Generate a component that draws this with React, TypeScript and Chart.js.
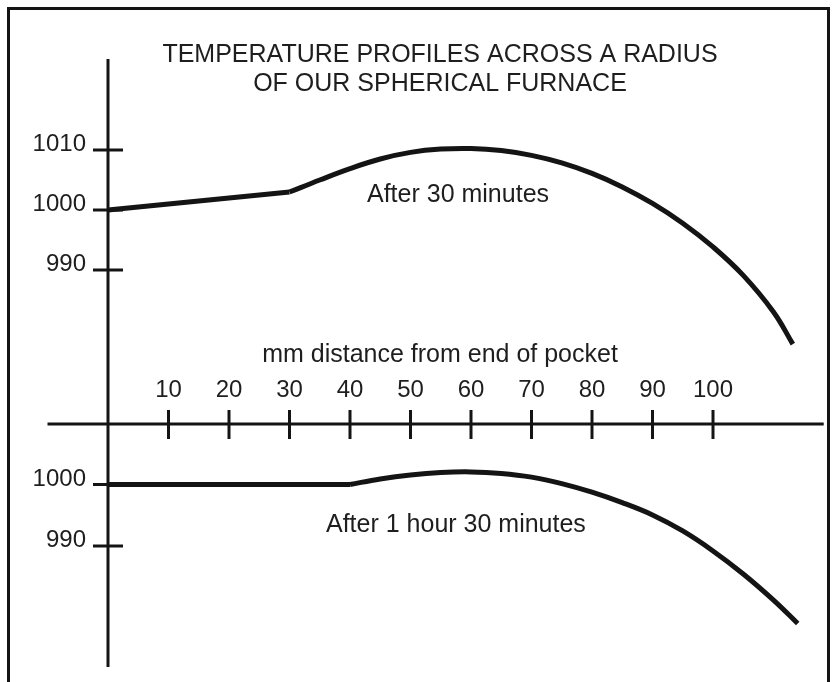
import React, { useEffect, useRef } from "react";
import { Chart, registerables } from "chart.js";

Chart.register(...registerables);

// ---- text ----
const titleLines = ["TEMPERATURE PROFILES ACROSS A RADIUS", "OF OUR SPHERICAL FURNACE"];
const xAxisTitle = "mm distance from end of pocket";
const upperLabel = "After 30 minutes";
const lowerLabel = "After 1 hour 30 minutes";

// ---- ticks ----
const xTicks = [10, 20, 30, 40, 50, 60, 70, 80, 90, 100];
const upperTicks = [1010, 1000, 990];
const lowerTicks = [1000, 990];

// ---- data: after 30 minutes ----
const upperX = [0, 30, 35, 40, 45, 50, 55, 60, 65, 70, 75, 80, 85, 90, 95, 100, 105, 110, 113.2];
const upperT = [1000, 1003.0, 1005.0, 1006.9, 1008.5, 1009.6, 1010.15, 1010.25, 1009.9, 1009.1, 1007.85, 1006.1, 1003.85, 1001.1, 997.8, 993.85, 989.1, 983.0, 977.65];
const upperKink = 30;

// ---- data: after 1 hour 30 minutes ----
const lowerX = [0, 40, 45, 50, 55, 60, 65, 70, 75, 80, 85, 90, 95, 100, 105, 110, 114];
const lowerT = [1000, 1000, 1000.9, 1001.55, 1001.95, 1002.05, 1001.8, 1001.2, 1000.15, 998.75, 997.05, 995.05, 992.45, 989.2, 985.45, 981.2, 977.4];
const lowerKink = 40;

const FONT = "'Liberation Sans', Arial, Helvetica, sans-serif";
const INK = "#141414";
const TEXT = "#1e1e1e";

function pts(xs: number[], ys: number[], from: number, to: number) {
  const out: { x: number; y: number }[] = [];
  xs.forEach((x, i) => {
    if (x >= from && x <= to) out.push({ x, y: ys[i] });
  });
  return out;
}

const lineStyle = {
  borderColor: INK,
  borderWidth: 5,
  pointRadius: 0,
  borderCapStyle: "butt" as const,
  borderJoinStyle: "round" as const,
  fill: false,
  clip: false as any,
};

const drawPlugin = {
  id: "furnaceAxes",
  afterDatasetsDraw(chart: any) {
    const ctx: CanvasRenderingContext2D = chart.ctx;
    const x = chart.scales.x;
    const yU = chart.scales.yU;
    const yL = chart.scales.yL;
    ctx.save();

    // frame
    ctx.strokeStyle = INK;
    ctx.lineWidth = 3;
    ctx.beginPath();
    ctx.moveTo(8.5, 690);
    ctx.lineTo(8.5, 8.5);
    ctx.lineTo(828.5, 8.5);
    ctx.lineTo(828.5, 690);
    ctx.stroke();

    const x0 = x.getPixelForValue(0);
    const axisY = 424;

    // vertical axis
    ctx.lineWidth = 3;
    ctx.beginPath();
    ctx.moveTo(x0, 59);
    ctx.lineTo(x0, 667);
    ctx.stroke();

    // horizontal axis
    ctx.beginPath();
    ctx.moveTo(x.getPixelForValue(-10), axisY);
    ctx.lineTo(x.getPixelForValue(118.3), axisY);
    ctx.stroke();

    // x ticks
    ctx.font = `24px ${FONT}`;
    ctx.fillStyle = TEXT;
    ctx.textAlign = "center";
    ctx.textBaseline = "alphabetic";
    xTicks.forEach((v) => {
      const px = x.getPixelForValue(v);
      ctx.beginPath();
      ctx.moveTo(px, axisY - 14);
      ctx.lineTo(px, axisY + 15);
      ctx.stroke();
      ctx.fillText(String(v), px, 397);
    });

    // y ticks
    const yTick = (scale: any, v: number) => {
      const py = scale.getPixelForValue(v);
      ctx.beginPath();
      ctx.moveTo(x0 - 15, py);
      ctx.lineTo(x0 + 15, py);
      ctx.stroke();
      ctx.textAlign = "right";
      ctx.fillText(String(v), 86, py + 1);
    };
    upperTicks.forEach((v) => yTick(yU, v));
    lowerTicks.forEach((v) => yTick(yL, v));

    // titles and labels
    ctx.font = `25px ${FONT}`;
    ctx.textAlign = "center";
    ctx.fillText(titleLines[0], 440, 62);
    ctx.fillText(titleLines[1], 440, 91);
    ctx.fillText(xAxisTitle, 440, 362);
    ctx.textAlign = "left";
    ctx.fillText(upperLabel, 367, 202);
    ctx.fillText(lowerLabel, 326, 532);

    ctx.restore();
  },
};

export default function App() {
  const ref = useRef<HTMLCanvasElement | null>(null);

  useEffect(() => {
    if (!ref.current) return;
    const chart = new Chart(ref.current, {
      type: "line",
      data: {
        datasets: [
          { ...lineStyle, yAxisID: "yU", tension: 0, data: pts(upperX, upperT, 0, upperKink) },
          { ...lineStyle, yAxisID: "yU", tension: 0.4, data: pts(upperX, upperT, upperKink, 999) },
          { ...lineStyle, yAxisID: "yL", tension: 0, data: pts(lowerX, lowerT, 0, lowerKink) },
          { ...lineStyle, yAxisID: "yL", tension: 0.4, data: pts(lowerX, lowerT, lowerKink, 999) },
        ] as any,
      },
      options: {
        animation: false,
        responsive: false,
        devicePixelRatio: 1,
        layout: { padding: { left: 108, right: 2, top: 0, bottom: 0 } },
        plugins: { legend: { display: false }, title: { display: false }, tooltip: { enabled: false } },
        events: [],
        scales: {
          x: { type: "linear", display: false, min: 0, max: 120 },
          yU: { type: "linear", display: false, min: 1035 - 682 / 6, max: 1035 },
          yL: { type: "linear", display: false, min: 1000 + 484.5 / 6.15 - 682 / 6.15, max: 1000 + 484.5 / 6.15 },
        },
      },
      plugins: [drawPlugin],
    });
    return () => chart.destroy();
  }, []);

  return (
    <div style={{ position: "absolute", left: 0, top: 0, width: 836, height: 682, background: "#fff" }}>
      <canvas ref={ref} width={836} height={682} style={{ display: "block", width: 836, height: 682 }} />
    </div>
  );
}
